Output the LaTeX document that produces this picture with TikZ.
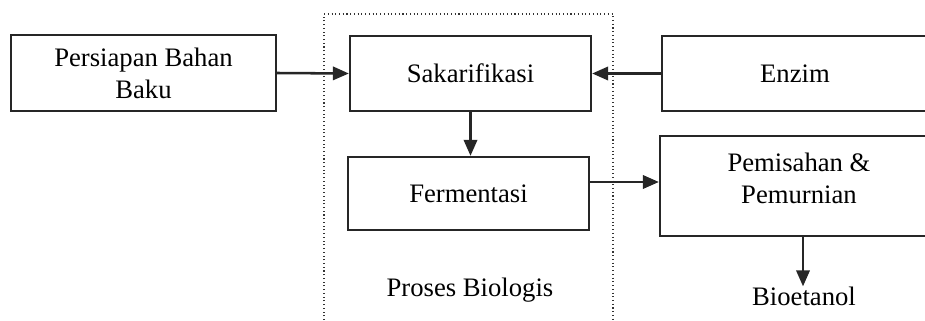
\documentclass[tikz,border=0pt]{standalone}
\usepackage{fontspec}
\setmainfont{Liberation Serif}
\usetikzlibrary{arrows.meta}
\begin{document}
\begin{tikzpicture}[x=0.75pt,y=-0.75pt,
  box/.style={draw=black!85, line width=1.7pt, inner sep=0pt, align=center, font=\fontsize{20}{30}\selectfont},
  txt/.style={inner sep=0pt, align=center, font=\fontsize{20}{30}\selectfont},
  arr/.style={line width=1.9pt, draw=black!85, -{Triangle[length=12pt,width=10pt]}}]
\useasboundingbox (0,0) rectangle (925,321);
\begin{scope}
\clip (0,0) rectangle (925,321);
\draw[dotted, line width=0.8pt, black!80] (324,335) -- (324,14) -- (613,14) -- (613,335);
\node[box, minimum width=265pt*0.75, minimum height=76pt*0.75] (bahan) at (143.5,73) {Persiapan Bahan\\[-6pt]Baku};
\node[box, minimum width=241pt*0.75, minimum height=75pt*0.75] (sak) at (470.5,73.5) {Sakarifikasi};
\node[box, minimum width=241pt*0.75, minimum height=73pt*0.75] (ferm) at (468.5,193.5) {Fermentasi};
\node[box, minimum width=266pt*0.75, minimum height=75pt*0.75] (enzim) at (795,73.5) {Enzim};
\node[box, minimum width=278pt*0.75, minimum height=100pt*0.75] (pem) at (799,186) {};
\node[txt] (pemtext) at (799,178) {Pemisahan \&\\[-6pt]Pemurnian};
\node[txt] (proses) at (470,290) {Proses Biologis};
\node[txt] (bio) at (804,296) {Bioetanol};
\coordinate (fp) at (0,182);
\coordinate (bx) at (803,0);
\draw[arr] (bahan.east) -- (sak.west);
\draw[arr] (enzim.west) -- (sak.east);
\draw[arr] (sak.south) -- (ferm.north -| sak.south);
\draw[arr] (ferm.east |- fp) -- (pem.west |- fp);
\draw[arr] (bx |- pem.south) -- (bx |- bio.north);
\end{scope}
\end{tikzpicture}
\end{document}
